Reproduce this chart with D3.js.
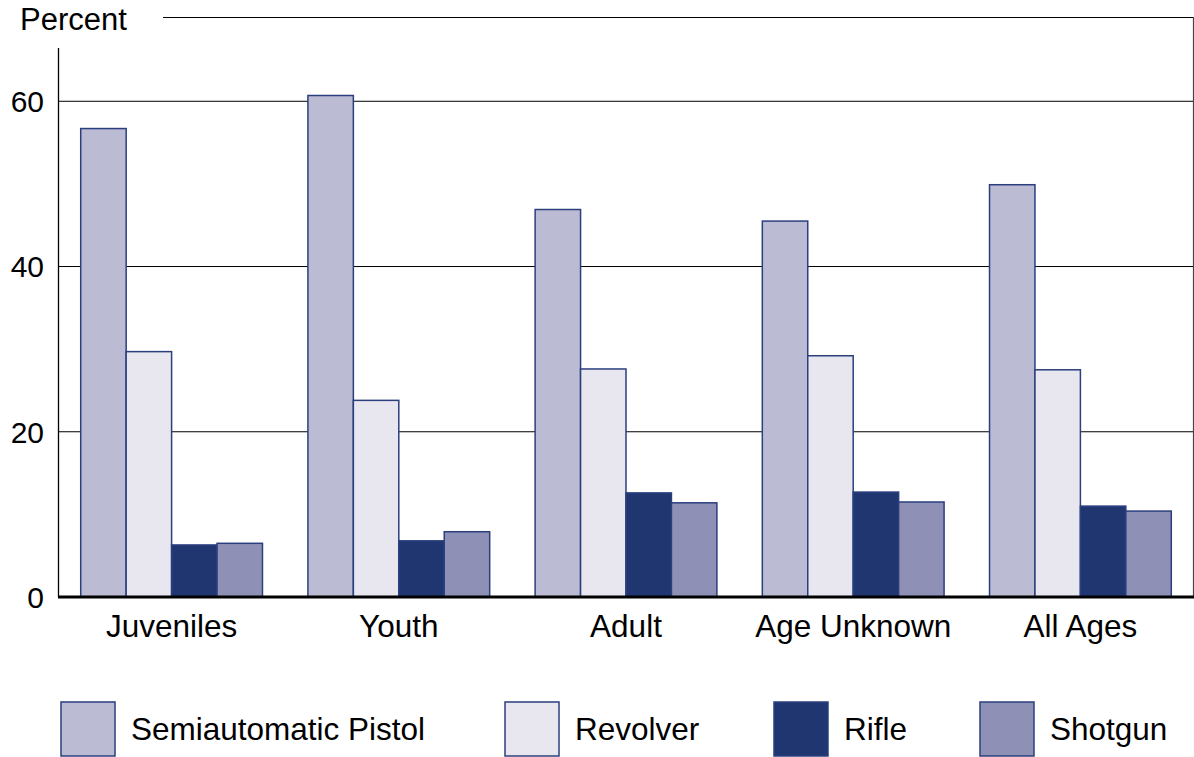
<!DOCTYPE html>
<html><head><meta charset="utf-8">
<script src="https://cdn.jsdelivr.net/npm/d3@7"></script>
<style>body{margin:0;background:#fff}svg{display:block}text{font-family:"Liberation Sans",Arial,sans-serif;fill:#000}</style>
</head><body>
<svg id="c" width="1194" height="757"></svg>
<script>
const categories = ["Juveniles","Youth","Adult","Age Unknown","All Ages"];
const seriesNames = ["Semiautomatic Pistol","Revolver","Rifle","Shotgun"];
const semiautomaticPistol = [56.7, 60.7, 46.9, 45.5, 49.9];
const revolver = [29.7, 23.8, 27.6, 29.2, 27.5];
const rifle = [6.3, 6.8, 12.6, 12.7, 11.0];
const shotgun = [6.5, 7.9, 11.4, 11.5, 10.4];
const yTicks = [0, 20, 40, 60];
const colors = ["#bbbbd4", "#e8e6ee", "#1f3671", "#8e90b6"];

const seriesValues = [semiautomaticPistol, revolver, rifle, shotgun];
const svg = d3.select("#c");
const L = 58, R = 1194, B = 597, T = 48;
const x0 = d3.scaleBand().domain(categories).range([L, R]).paddingInner(0.2).paddingOuter(0.1);
const x1 = d3.scaleBand().domain(seriesNames).range([0, x0.bandwidth()]);
const y = d3.scaleLinear().domain([0, 60]).range([B, B - 60 * 8.262]);

// gridlines
svg.append("g").selectAll("line").data(yTicks.filter(d => d > 0)).join("line")
  .attr("x1", L).attr("x2", R).attr("y1", d => y(d)).attr("y2", d => y(d))
  .attr("stroke", "#000").attr("stroke-width", 1);
// frame top + right
svg.append("line").attr("x1", 163).attr("x2", R).attr("y1", 17.5).attr("y2", 17.5).attr("stroke", "#000").attr("stroke-width", 1.2);
svg.append("line").attr("x1", 1193.5).attr("x2", 1193.5).attr("y1", 17).attr("y2", B).attr("stroke", "#444").attr("stroke-width", 1.2);
// left axis
svg.append("line").attr("x1", L + 0.5).attr("x2", L + 0.5).attr("y1", T).attr("y2", B).attr("stroke", "#000").attr("stroke-width", 1.3);

// bars
const g = svg.append("g").selectAll("g").data(categories).join("g")
  .attr("transform", d => `translate(${x0(d)},0)`);
g.selectAll("rect").data((c, i) => seriesNames.map((s, k) => ({s, k, v: seriesValues[k][i]}))).join("rect")
  .attr("x", d => x1(d.s)).attr("width", x1.bandwidth())
  .attr("y", d => y(d.v)).attr("height", d => B - y(d.v))
  .attr("fill", d => colors[d.k]).attr("stroke", "#2b3f7e").attr("stroke-width", 1.5);

// baseline
svg.append("line").attr("x1", L).attr("x2", R).attr("y1", B).attr("y2", B).attr("stroke", "#000").attr("stroke-width", 3);

// y tick labels
svg.append("g").selectAll("text").data(yTicks).join("text")
  .attr("x", 44).attr("y", d => y(d)).attr("dy", "0.36em").attr("text-anchor", "end")
  .attr("font-size", 30).text(d => d);
svg.append("text").attr("x", 20).attr("y", 30).attr("font-size", 31).text("Percent");

// x labels
svg.append("g").selectAll("text").data(categories).join("text")
  .attr("x", d => x0(d) + x0.bandwidth() / 2).attr("y", 637).attr("text-anchor", "middle")
  .attr("font-size", 31.5).text(d => d);

// legend
const legX = [61, 505, 774, 980];
const lg = svg.append("g").selectAll("g").data(seriesNames).join("g")
  .attr("transform", (d, i) => `translate(${legX[i]},702)`);
lg.append("rect").attr("width", 54).attr("height", 54)
  .attr("fill", (d, i) => colors[i]).attr("stroke", "#2b3f7e").attr("stroke-width", 1.5);
lg.append("text").attr("x", 70).attr("y", 27).attr("dy", "0.36em").attr("font-size", 31.5).text(d => d);
</script>
</body></html>
